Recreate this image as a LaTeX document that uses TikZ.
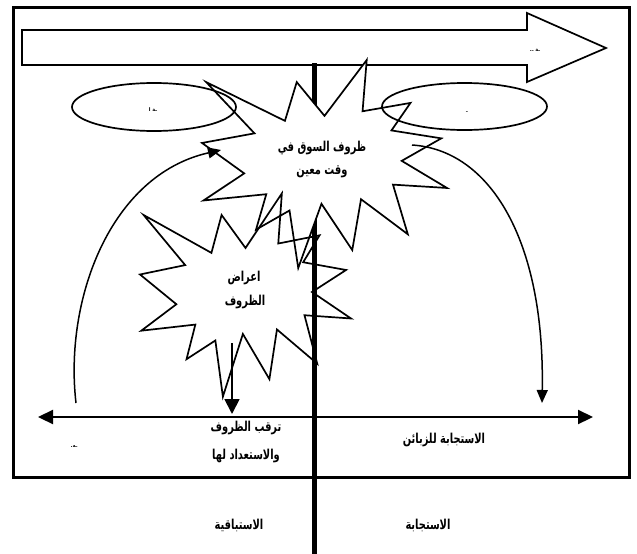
\documentclass[tikz,border=0pt]{standalone}
\usepackage{fontspec}
\usetikzlibrary{arrows.meta,shapes.geometric}
\TeXXeTstate=1
\newfontfamily\arabicfont[Script=Arabic]{DejaVu Sans}
\newfontfamily\arabicbold[Script=Arabic]{DejaVu Sans Bold}
\tikzset{
  artext/.style={font=\arabicbold\fontsize{10.5}{12}\selectfont, inner sep=0pt, transform shape, xscale=0.94, yscale=1.3},
  tinytext/.style={font=\arabicbold\fontsize{5}{6}\selectfont, inner sep=0pt},
  outl/.style={line width=1.7pt, line join=miter},
  curvearrow/.style={line width=1.5pt, -{Triangle[length=13pt,width=11pt]}},
  bigtip/.style={line width=2.2pt, {Triangle[length=15pt,width=14pt]}-{Triangle[length=15pt,width=14pt]}},
  downarrow/.style={line width=1.8pt, -{Triangle[length=15pt,width=15pt]}},
}
\begin{document}
\begin{tikzpicture}[x=1pt,y=-1pt]
\useasboundingbox (0,0) rectangle (637,554);
% frame
\draw[line width=3pt] (13.5,7.5) rectangle (629,477);
% big arrow
\draw[outl, fill=white] (22,30) -- (527,30) -- (527,13) -- (606,48) -- (527,82) -- (527,65) -- (22,65) -- cycle;
\node[tinytext] (arrowlabel) at (535,50) {\beginR ـة ـ.\endR};
% vertical line
\coordinate (vtop) at (314,63);
\coordinate (vbot) at (314,554);
\draw[line width=5pt] (vtop) -- (vbot);
% big star (filled white)
\begin{scope}[shift={(202,60)}, xscale=245/216, yscale=208/216]
\draw[outl, fill=white] (108,58) -- (145.22,0) -- (141.55,53.25) -- (183.80,44.57) -- (167.02,73.15) -- (210.97,81.37) -- (176.07,104.75) -- (216,132.90) -- (168.37,129.42) -- (181.45,180.95) -- (140.20,144.57) -- (132.47,197.37) -- (105.32,149.35) -- (84.85,216) -- (77.15,156.27) -- (47.62,176.17) -- (56.67,139.37) -- (1.35,145.87) -- (37.22,117.75) -- (0,86.15) -- (46.27,76.17) -- (3.70,22.95) -- (73.12,63.20) -- (83.52,22.95) -- cycle;
\end{scope}
% ellipses
\node[draw, line width=1.7pt, ellipse, minimum width=164pt, minimum height=48pt, inner sep=0pt] (leftell) at (154,107) {};
\node[draw, line width=1.7pt, ellipse, minimum width=165pt, minimum height=47pt, inner sep=0pt] (rightell) at (464.5,106.5) {};
\node[tinytext] (leftlabel) at (153,110) {\beginR ـة ا\endR};
\node[tinytext] (rightlabel) at (467,112) {\beginR ـ\endR};
% small star (outline only)
\begin{scope}[shift={(140,193.4)}, xscale=211/216, yscale=203.3/216]
\draw[outl] (108,58) -- (145.22,0) -- (141.55,53.25) -- (183.80,44.57) -- (167.02,73.15) -- (210.97,81.37) -- (176.07,104.75) -- (216,132.90) -- (168.37,129.42) -- (181.45,180.95) -- (140.20,144.57) -- (132.47,197.37) -- (105.32,149.35) -- (84.85,216) -- (77.15,156.27) -- (47.62,176.17) -- (56.67,139.37) -- (1.35,145.87) -- (37.22,117.75) -- (0,86.15) -- (46.27,76.17) -- (3.70,22.95) -- (73.12,63.20) -- (83.52,22.95) -- cycle;
\end{scope}
% star texts
\node[artext] (market1) at (322,148) {\beginR ظروف السوق في\endR};
\node[artext] (market2) at (322,172) {\beginR وقت معين\endR};
\node[artext] (symp1) at (244,278) {\beginR اعراض\endR};
\node[artext] (symp2) at (245,302) {\beginR الظروف\endR};
% curved arrows
\coordinate (lstart) at (76,403);
\coordinate (lend) at (221,150);
\draw[curvearrow] (lstart) .. controls (64,300) and (110,175) .. (lend);
\coordinate (rstart) at (412,145);
\coordinate (rend) at (542,403);
\draw[curvearrow] (rstart) .. controls (490,150) and (545,240) .. (rend);
% small down arrow
\coordinate (dstart) at (232,343);
\coordinate (dend) at (232,414);
\draw[downarrow] (dstart) -- (dend);
% horizontal double arrow
\coordinate (hleft) at (38,417);
\coordinate (hright) at (593,417);
\draw[bigtip] (hleft) -- (hright);
% bottom texts
\node[artext] (watch1) at (246,428) {\beginR ترقب الظروف\endR};
\node[artext] (watch2) at (246,456) {\beginR والاستعداد لها\endR};
\node[artext] (respond) at (444,440) {\beginR الاستجابة للزبائن\endR};
\node[tinytext] (smalllabel) at (74,447) {\beginR ـه.\endR};
\node[artext] (proactive) at (239,525) {\beginR الاستباقية\endR};
\node[artext] (reactive) at (428,525) {\beginR الاستجابة\endR};
\end{tikzpicture}
\end{document}
